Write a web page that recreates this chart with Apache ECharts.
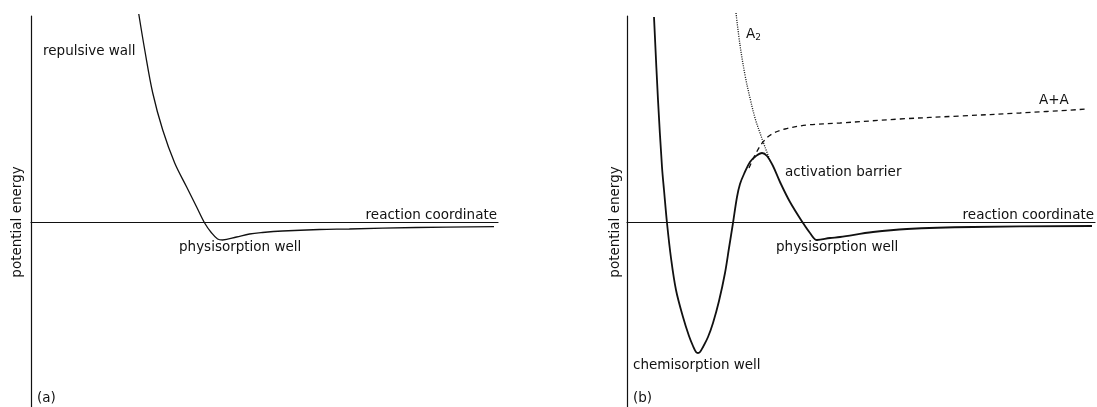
<!DOCTYPE html>
<html>
<head>
<meta charset="utf-8">
<script src="https://cdn.jsdelivr.net/npm/echarts@6/dist/echarts.min.js"></script>
<style>
  html, body { margin: 0; padding: 0; background: #fff; }
  #chart { width: 1097px; height: 407px; }
</style>
</head>
<body>
<div id="chart"></div>
<script>
// potential energy curves, [reaction coordinate, energy] in arbitrary units (0 = free molecule)
const physCurveA = [
  [108, 208], [114, 172], [122, 129], [132, 92], [144, 59], [156, 35], [166, 15],
  [174, -1], [181, -11], [187, -17], [192, -18], [206, -15], [219, -12], [232, -10.5],
  [252, -9], [289, -7.5], [319, -7], [386, -5.5], [464, -4.7]
];
const chemCurveB = [
  [27, 205], [31, 122], [35, 55], [37, 32], [40, -1], [44, -36], [49, -68], [56, -95],
  [62, -114], [66, -124], [69, -130], [71, -131], [73, -130], [76, -125], [81, -115],
  [86, -101], [92, -79], [98, -51], [102, -26], [106, -1], [110, 25], [113, 38], [117, 48],
  [123, 60], [129, 66], [135, 69], [140, 66], [146, 56], [153, 40], [163, 20], [176, -1],
  [183, -11], [190, -18], [203, -16], [213, -15], [246, -10], [280, -7], [346, -5], [465, -4]
];
const moleculeA2 = [
  [109, 209], [113, 177], [118, 147], [123, 124], [128, 104], [133, 89], [138, 75], [144, 59]
];
const atomsAA = [
  [122, 54], [128, 67], [136, 80], [145, 88], [158, 93], [180, 97], [213, 99],
  [273, 103], [333, 106], [393, 109], [461, 113]
];
const xRange = [0, 468];
const yRange = [-185, 206];

const chart = echarts.init(document.getElementById('chart'));
const FONT = 'DejaVu Sans';
const INK = '#111';

const axisX = (i) => ({
  type: 'value', gridIndex: i, min: xRange[0], max: xRange[1],
  axisLine: { show: true, onZero: true, lineStyle: { color: INK, width: 1.2 } },
  axisTick: { show: false }, axisLabel: { show: false }, splitLine: { show: false }
});
const axisY = (i) => ({
  type: 'value', gridIndex: i, min: yRange[0], max: yRange[1],
  axisLine: { show: true, onZero: false, lineStyle: { color: INK, width: 1.2 } },
  axisTick: { show: false }, axisLabel: { show: false }, splitLine: { show: false }
});
const curve = (i, data, width, type) => ({
  type: 'line', xAxisIndex: i, yAxisIndex: i, data: data,
  smooth: 0.35, showSymbol: false, clip: false, silent: true,
  lineStyle: { color: INK, width: width, type: type }
});
const txt = (x, y, s, extra) => ({
  type: 'text', x: x, y: y, silent: true,
  style: Object.assign({ text: s, font: '13.5px "' + FONT + '"', fill: INK,
    textAlign: 'left', textVerticalAlign: 'middle' }, extra || {})
});

chart.setOption({
  animation: false,
  backgroundColor: '#fff',
  grid: [
    { left: 31, top: 16, width: 467, height: 391 },
    { left: 627, top: 16, width: 468, height: 391 }
  ],
  xAxis: [axisX(0), axisX(1)],
  yAxis: [axisY(0), axisY(1)],
  series: [
    curve(0, physCurveA, 1.3, 'solid'),
    curve(1, chemCurveB, 1.8, 'solid'),
    curve(1, moleculeA2, 1.3, [1, 1.3]),
    curve(1, atomsAA, 1.3, [5, 4])
  ],
  graphic: [
    txt(17, 222, 'potential energy', { textAlign: 'center' }),
    txt(615, 222, 'potential energy', { textAlign: 'center' }),
    txt(43, 51, 'repulsive wall'),
    txt(179, 247, 'physisorption well'),
    txt(497, 215, 'reaction coordinate', { textAlign: 'right' }),
    txt(37, 398, '(a)'),
    txt(776, 247, 'physisorption well'),
    txt(633, 365, 'chemisorption well'),
    txt(785, 172, 'activation barrier'),
    txt(1094, 215, 'reaction coordinate', { textAlign: 'right' }),
    txt(1039, 100, 'A+A'),
    txt(633, 398, '(b)'),
    {
      type: 'text', x: 746, y: 34, silent: true,
      style: {
        text: '{m|A}{s|2}', textVerticalAlign: 'middle',
        rich: {
          m: { fontFamily: FONT, fontSize: 13.5, fill: INK, color: INK },
          s: { fontFamily: FONT, fontSize: 9, fill: INK, color: INK, padding: [8, 0, 0, 0] }
        }
      }
    }
  ].map((g, i) => (i < 2 ? Object.assign(g, { rotation: Math.PI / 2 }) : g))
});
</script>
</body>
</html>
